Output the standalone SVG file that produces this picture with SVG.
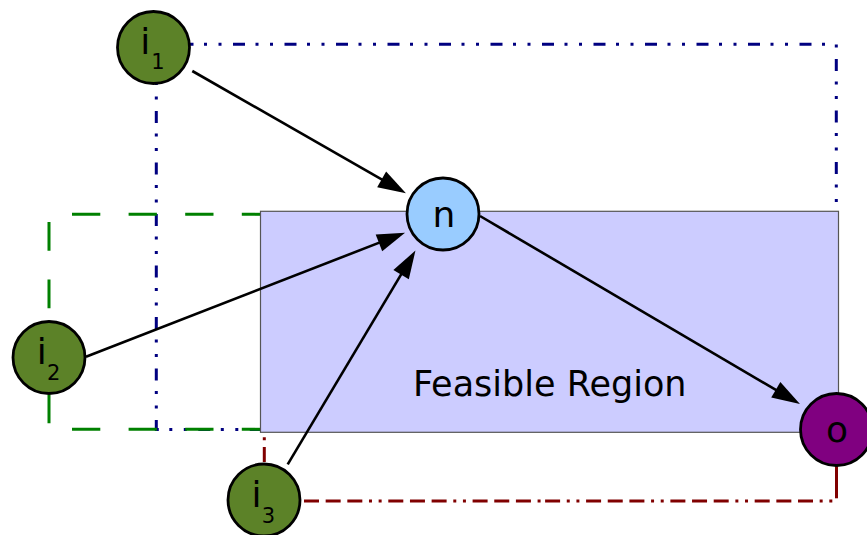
<svg xmlns="http://www.w3.org/2000/svg" width="867" height="535" viewBox="0 0 867 535">
<style>
.blue{fill:none;stroke:#000080;stroke-width:3;stroke-dasharray:12 10.5 3 11.5 3 11.5}
.green{fill:none;stroke:#008000;stroke-width:3;stroke-dasharray:28.3 28.3}
.red{fill:none;stroke:#800000;stroke-width:3;stroke-dasharray:15 6.66 15 6.66 15 6.66 3 6.66 3 6.66}
.edge{fill:none;stroke:#000;stroke-width:2.6;marker-end:url(#arr)}
.node{stroke:#000;stroke-width:2.8}
.in{fill:#5c8228}
.lbl{font-family:"DejaVu Sans",sans-serif;font-size:36px;fill:#000;text-anchor:middle}
.sub{font-family:"DejaVu Sans",sans-serif;font-size:21px;fill:#000;text-anchor:middle}
</style>
<defs>
<marker id="arr" markerUnits="userSpaceOnUse" markerWidth="30" markerHeight="20" refX="8" refY="0" orient="auto" overflow="visible">
<path d="M0,-9 L28,0 L0,9 z" fill="#000"/>
</marker>
</defs>
<rect width="867" height="535" fill="#fff"/>
<g id="regions">
<path class="blue" d="M181.5,44.3 H836.3 V211"/>
<path class="blue" d="M156.3,59.5 V429.5 H260"/>
<path class="green" d="M72,214.3 H262"/>
<path class="green" d="M72,429.3 H262"/>
<path class="green" style="stroke-dasharray:28.75 28.75" d="M49,222 V430"/>
<path class="red" style="stroke-dashoffset:70.36" d="M264.3,433 V468"/>
<path class="red" d="M304,501 H545"/>
<path class="red" style="stroke-dashoffset:60.8" d="M836.5,501 H545"/>
<path d="M836.5,466 V498.3" stroke="#800000" stroke-width="3"/>
</g>
<g id="feasible-region">
<rect x="260.5" y="211.3" width="578" height="221" fill="#ccccff" stroke="#555" stroke-width="1.2"/>
<text x="549.7" y="396" font-family="DejaVu Sans, sans-serif" font-size="35" text-anchor="middle" fill="#000">Feasible Region</text>
</g>
<g id="connectors">
<path class="edge" d="M192.3,71 L388.6,183.4"/>
<path class="edge" d="M86,356.7 L386.4,239.9"/>
<path class="edge" d="M287.7,464.3 L405.2,267.7"/>
<path class="edge" d="M480,216 L782.7,393.9"/>
</g>
<g id="i1">
<circle class="node in" cx="153.5" cy="47.5" r="36"/>
<text class="lbl" x="145.3" y="53.5">i</text>
<text class="sub" x="158" y="69">1</text>
</g>
<g id="i2">
<circle class="node in" cx="49" cy="357.5" r="36"/>
<text class="lbl" x="41.8" y="364.3">i</text>
<text class="sub" x="53.7" y="380">2</text>
</g>
<g id="i3">
<circle class="node in" cx="264" cy="500" r="36"/>
<text class="lbl" x="256.5" y="506.5">i</text>
<text class="sub" x="268.5" y="522.5">3</text>
</g>
<g id="n">
<circle class="node" fill="#99ccff" cx="443" cy="214" r="36"/>
<text class="lbl" x="443.8" y="226.7">n</text>
</g>
<g id="o">
<circle class="node" fill="#800080" cx="836.5" cy="429.5" r="36"/>
<text class="lbl" x="837" y="441.6">o</text>
</g>
</svg>
